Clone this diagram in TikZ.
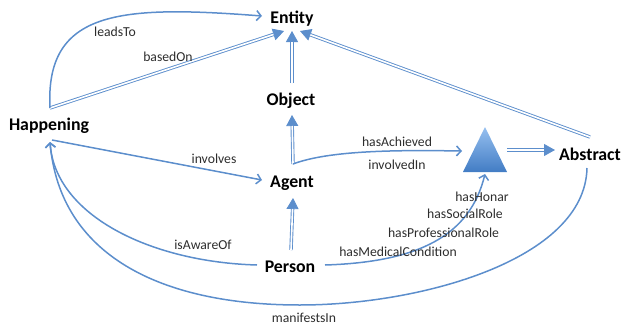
\documentclass[tikz,border=0pt]{standalone}
\usepackage{fontspec}
\setmainfont{Carlito}
\usetikzlibrary{arrows.meta,calc}
\definecolor{ln}{RGB}{92,142,204}
\definecolor{lbl}{RGB}{45,45,45}
\definecolor{tritop}{RGB}{150,192,240}
\definecolor{tribot}{RGB}{66,124,196}
\newcommand{\isaedge}[2]{\draw[dbltip] #1 -- #2; \draw[dbl] #1 -- #2;}
\begin{document}
\begin{tikzpicture}[x=1pt,y=-1pt,
  cls/.style={font=\bfseries\fontsize{17.8}{20}\selectfont, inner sep=0pt},
  lab/.style={font=\fontsize{13.7}{16}\selectfont, text=lbl, inner sep=0pt},
  rel/.style={draw=ln, line width=1.5pt, -{Straight Barb[length=4.5pt,width=10pt]}},
  dbl/.style={draw=ln, line width=0.9pt, double=white, double distance=1.6pt, shorten >=11pt},
  dbltip/.style={draw=ln, fill=ln, line width=0.8pt, -{Triangle[length=11pt,width=12pt]}},
]
\useasboundingbox (0,0) rectangle (622,327);

% classes
\node[cls] (entity) at (292,19) {Entity};
\node[cls] (object) at (291,101) {Object};
\node[cls] (happening) at (49,126) {Happening};
\node[cls] (agent) at (292,183) {Agent};
\node[cls] (person) at (290,267) {Person};
\node[cls] (abstract) at (590,154) {Abstract};

% triangle
\coordinate (tri) at (485,150);
\shade[top color=tritop, bottom color=tribot] ($(tri)+(0,-23)$) -- ($(tri)+(22,22)$) -- ($(tri)+(-22,22)$) -- cycle;

% subclass (double) edges
\isaedge{($(happening)+(1,-18)$)}{($(entity)+(-8,12)$)}
\isaedge{($(object)+(1,-18)$)}{($(entity)+(0,12)$)}
\isaedge{($(abstract)+(0,-17)$)}{($(entity)+(8,12)$)}
\isaedge{($(agent)+(1,-19)$)}{($(object)+(1,14)$)}
\isaedge{($(person)+(1,-17)$)}{($(agent)+(1,15)$)}
\isaedge{($(tri)+(22,0)$)}{($(abstract)+(-35,-4)$)}

% relations
\draw[rel] ($(happening)+(1,-18)$) .. controls (45,10) and (120,5) .. ($(entity)+(-30,-3)$);
\draw[rel] ($(agent)+(1,-19)$) .. controls (330,150) and (400,150) .. ($(tri)+(-23,1)$);
\draw[rel] ($(happening)+(3,14)$) -- ($(agent)+(-30,-3)$);
\draw[rel] ($(person)+(-33,-2)$) .. controls (150,262) and (55,215) .. ($(happening)+(1,16)$);
\draw[rel] ($(abstract)+(-3,14)$) .. controls (585,260) and (420,305) .. (300,305)
  .. controls (160,305) and (60,255) .. ($(happening)+(1,16)$);
\draw[rel] ($(person)+(35,-2)$) .. controls (420,262) and (470,235) .. ($(tri)+(0,24)$);

% labels
\node[lab] (lleads) at (115,32) {leadsTo};
\node[lab] (lbased) at (168,57) {basedOn};
\node[lab] (linvolves) at (214,159) {involves};
\node[lab] (lach) at (397,142) {hasAchieved};
\node[lab] (linv) at (397,165) {involvedIn};
\node[lab] (laware) at (203,245) {isAwareOf};
\node[lab] (lman) at (304,318) {manifestsIn};
\node[lab] (lhonar) at (482,197) {hasHonar};
\node[lab] (lsocial) at (465,214) {hasSocialRole};
\node[lab] (lprof) at (443.5,233) {hasProfessionalRole};
\node[lab] (lmed) at (398,252) {hasMedicalCondition};
\end{tikzpicture}
\end{document}
